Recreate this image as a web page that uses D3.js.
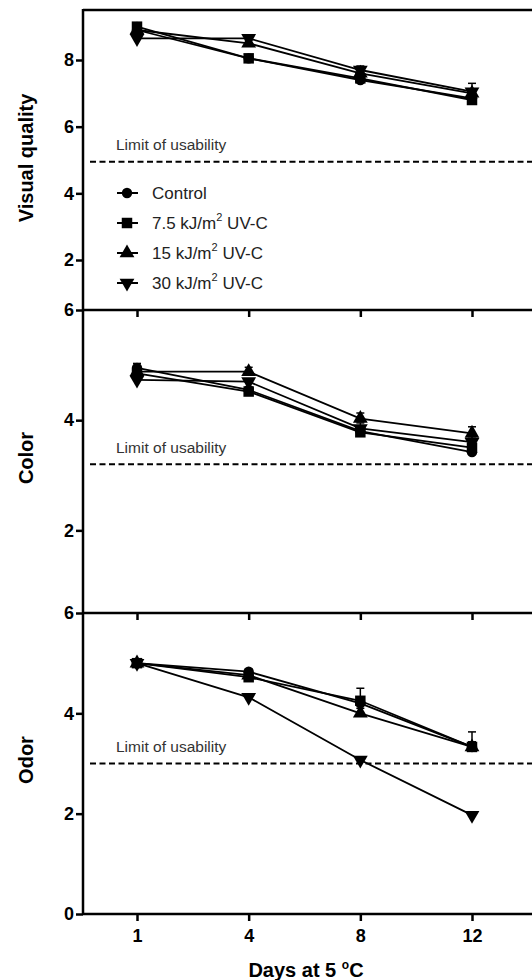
<!DOCTYPE html>
<html>
<head>
<meta charset="utf-8">
<script src="https://cdn.jsdelivr.net/npm/d3@7"></script>
<style>
  body { margin: 0; background: #fff; }
  svg { display: block; font-family: Arial, "Liberation Sans", sans-serif; }
</style>
</head>
<body>
<div id="chart"></div>
<script>
// data
const days = [1, 4, 8, 12]
const doses = ['7.5', '15', '30']

// Visual quality
const vqControl = [8.9, 8.05, 7.4, 6.85]
const vq75 = [9.0, 8.05, 7.45, 6.8]
const vq15 = [8.9, 8.5, 7.6, 7.0]
const vq30 = [8.65, 8.65, 7.7, 7.05]
const vqErrControl = [0.05, 0.05, 0.1, 0.1]
const vqErr75 = [0.08, 0.05, 0.1, 0.1]
const vqErr15 = [0.05, 0.1, 0.1, 0.1]
const vqErr30 = [0.05, 0.1, 0.12, 0.25]

// Color
const colControl = [4.95, 4.55, 3.8, 3.42]
const col75 = [4.85, 4.52, 3.78, 3.5]
const col15 = [4.88, 4.88, 4.03, 3.76]
const col30 = [4.73, 4.7, 3.85, 3.6]
const colErrControl = [0.08, 0.05, 0.1, 0.1]
const colErr75 = [0.05, 0.05, 0.1, 0.1]
const colErr15 = [0.05, 0.08, 0.1, 0.12]
const colErr30 = [0.05, 0.05, 0.1, 0.1]

// Odor
const odControl = [5.0, 4.83, 4.2, 3.33]
const od75 = [5.0, 4.72, 4.25, 3.33]
const od15 = [5.0, 4.76, 4.0, 3.33]
const od30 = [5.0, 4.32, 3.07, 1.97]
const odErrControl = [0, 0.05, 0.1, 0.1]
const odErr75 = [0, 0.05, 0.25, 0.3]
const odErr15 = [0, 0.05, 0.1, 0.1]
const odErr30 = [0, 0.05, 0.05, 0.05]

// limits of usability
const limits = [4.95, 3.2, 3.0]

const width = 532,
    height = 980,
    axisX = 83,
    rightX = 600

const svg = d3.select('#chart')
    .append('svg')
    .attr('width', width)
    .attr('height', height)

const x = d3.scalePoint()
    .domain(days)
    .range([137, 472])

const symbols = [
    d3.symbol().type(d3.symbolCircle).size(85),
    d3.symbol().type(d3.symbolSquare).size(110),
    d3.symbol().type(d3.symbolTriangle).size(95),
    d3.symbol().type(d3.symbolTriangle).size(95)
]
const rotations = [0, 0, 0, 180]

const panels = [
    { title: 'Visual quality', domain: [0.5, 9.5], range: [310, 10], ticks: [2, 4, 6, 8], titleY: 158,
      series: [vqControl, vq75, vq15, vq30], errs: [vqErrControl, vqErr75, vqErr15, vqErr30], limit: limits[0] },
    { title: 'Color', domain: [0.5, 6], range: [613, 310], ticks: [2, 4, 6], titleY: 458,
      series: [colControl, col75, col15, col30], errs: [colErrControl, colErr75, colErr15, colErr30], limit: limits[1] },
    { title: 'Odor', domain: [0, 6], range: [914, 613], ticks: [0, 2, 4, 6], titleY: 760,
      series: [odControl, od75, od15, od30], errs: [odErrControl, odErr75, odErr15, odErr30], limit: limits[2] }
]

panels.forEach((p, pi) => {
    const y = d3.scaleLinear().domain(p.domain).range(p.range)
    const g = svg.append('g')

    // dashed limit line + label
    const ly = y(p.limit)
    g.append('line')
        .attr('x1', 90).attr('x2', width)
        .attr('y1', ly).attr('y2', ly)
        .attr('stroke', '#000')
        .attr('stroke-width', 2)
        .attr('stroke-dasharray', '6,3.5')
    g.append('text')
        .attr('x', 116)
        .attr('y', ly - 11.5)
        .attr('font-size', 15.5)
        .attr('fill', '#333')
        .text('Limit of usability')

    // lines
    const line = d3.line()
        .x((d, i) => x(days[i]))
        .y(d => y(d))
    p.series.forEach(s => {
        g.append('path')
            .datum(s)
            .attr('d', line)
            .attr('fill', 'none')
            .attr('stroke', '#000')
            .attr('stroke-width', 1.8)
    })

    // error bars (upper only)
    p.series.forEach((s, si) => {
        s.forEach((v, i) => {
            const e = p.errs[si][i]
            if (!e) return
            const cx = x(days[i])
            g.append('line')
                .attr('x1', cx).attr('x2', cx)
                .attr('y1', y(v)).attr('y2', y(v + e))
                .attr('stroke', '#000').attr('stroke-width', 1.5)
            g.append('line')
                .attr('x1', cx - 4).attr('x2', cx + 4)
                .attr('y1', y(v + e)).attr('y2', y(v + e))
                .attr('stroke', '#000').attr('stroke-width', 1.5)
        })
    })

    // markers
    p.series.forEach((s, si) => {
        g.selectAll('.m' + si)
            .data(s)
            .enter()
            .append('path')
            .attr('d', symbols[si])
            .attr('transform', (d, i) => `translate(${x(days[i])},${y(d)}) rotate(${rotations[si]})`)
            .attr('fill', '#000')
    })

    // y axis
    const yAxis = d3.axisLeft(y)
        .tickValues(p.ticks)
        .tickFormat(d3.format('d'))
        .tickSize(7)
        .tickSizeOuter(0)
    const ya = g.append('g')
        .attr('transform', `translate(${axisX},0)`)
        .call(yAxis)
    ya.select('.domain').remove()
    ya.selectAll('line').attr('stroke', '#000').attr('stroke-width', 2.5)
    ya.selectAll('text')
        .attr('font-size', 18)
        .attr('font-weight', 'bold')
        .attr('font-family', 'Arial, "Liberation Sans", sans-serif')
        .attr('fill', '#000')
        .attr('x', -9)

    // bottom axis of the panel (ticks pointing down)
    const xAxis = d3.axisBottom(x)
        .tickSize(7)
        .tickSizeOuter(0)
        .tickFormat(pi === 2 ? d3.format('d') : '')
    const xa = g.append('g')
        .attr('transform', `translate(0,${p.range[0]})`)
        .call(xAxis)
    xa.select('.domain').remove()
    xa.selectAll('line').attr('stroke', '#000').attr('stroke-width', 2.5)
    xa.selectAll('text')
        .attr('font-size', 18)
        .attr('font-weight', 'bold')
        .attr('font-family', 'Arial, "Liberation Sans", sans-serif')
        .attr('fill', '#000')
        .attr('dy', null)
        .attr('y', 28)

    g.append('line')
        .attr('x1', axisX).attr('x2', rightX)
        .attr('y1', p.range[0]).attr('y2', p.range[0])
        .attr('stroke', '#000').attr('stroke-width', 2.5)

    // axis title
    g.append('text')
        .attr('transform', `translate(33,${p.titleY}) rotate(-90)`)
        .attr('text-anchor', 'middle')
        .attr('font-size', 20)
        .attr('font-weight', 'bold')
        .text(p.title)
})

// frame: top line + left axis
svg.append('line')
    .attr('x1', axisX).attr('x2', rightX)
    .attr('y1', 10).attr('y2', 10)
    .attr('stroke', '#000').attr('stroke-width', 2.5)
svg.append('line')
    .attr('x1', axisX).attr('x2', axisX)
    .attr('y1', 9).attr('y2', 915)
    .attr('stroke', '#000').attr('stroke-width', 2.5)

// x axis title
const xt = svg.append('text')
    .attr('x', 306)
    .attr('y', 977)
    .attr('text-anchor', 'middle')
    .attr('font-size', 20)
    .attr('font-weight', 'bold')
xt.append('tspan').text('Days at 5 ')
xt.append('tspan').attr('font-size', 12).attr('dy', -8).text('o')
xt.append('tspan').attr('dy', 8).text('C')

// legend
const legend = svg.append('g')
const legendLabels = ['Control'].concat(doses)
legendLabels.forEach((lab, i) => {
    const ly = 193 + i * 30
    legend.append('line')
        .attr('x1', 117).attr('x2', 138)
        .attr('y1', ly).attr('y2', ly)
        .attr('stroke', '#000').attr('stroke-width', 2)
    legend.append('path')
        .attr('d', symbols[i])
        .attr('transform', `translate(127,${ly}) rotate(${rotations[i]})`)
        .attr('fill', '#000')
    const t = legend.append('text')
        .attr('x', 152)
        .attr('y', ly + 6)
        .attr('font-size', 17)
        .attr('fill', '#222')
    if (i === 0) {
        t.text(lab)
    } else {
        t.append('tspan').text(lab + ' kJ/m')
        t.append('tspan').attr('font-size', 11).attr('dy', -8).text('2')
        t.append('tspan').attr('dy', 8).text(' UV-C')
    }
})
</script>
</body>
</html>
